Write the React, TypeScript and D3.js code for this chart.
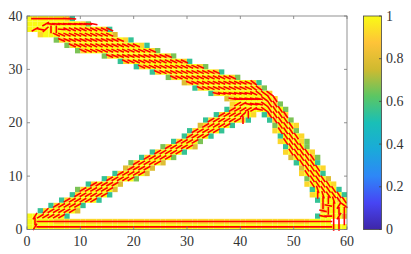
import * as d3 from 'd3'

// Density field, top row first. Each run is [first column, one digit per cell]
const densityRows: [number, string][][] = [
  [[0, '999999985']],
  [[0, '999999999986']],
  [[0, '9999999999999985']],
  [[2, '899999999999997']],
  [[5, '689999999999985']],
  [[7, '6899999999999985']],
  [[9, '6899999999999986']],
  [[14, '68999999999986']],
  [[17, '58999999999985']],
  [[20, '58999999999986']],
  [[23, '58999999999985']],
  [[26, '68999999999986']],
  [[29, '789999999999985']],
  [[31, '58999999999986']],
  [[34, '589999999998']],
  [[37, '7899999998']],
  [[38, '8999999986']],
  [[37, '589999999996']],
  [[35, '58999998'], [44, '58998']],
  [[33, '589999985'], [45, '58996']],
  [[32, '7899995'], [46, '69998']],
  [[30, '5899995'], [46, '89996']],
  [[29, '589995'], [47, '59998']],
  [[27, '589996'], [47, '899986']],
  [[25, '6899997'], [48, '59996']],
  [[23, '5899995'], [48, '899998']],
  [[21, '5899996'], [49, '799986']],
  [[19, '6899997'], [50, '59995']],
  [[18, '789997'], [51, '79998']],
  [[16, '5899997'], [51, '89995']],
  [[14, '5899996'], [52, '69997']],
  [[11, '5899997'], [52, '899998']],
  [[9, '68999997'], [53, '599995']],
  [[8, '58999995'], [53, '8999995']],
  [[6, '58999995'], [54, '599989']],
  [[4, '5899995'], [55, '89999']],
  [[2, '58999997'], [55, '89999']],
  [[0, '99999995'], [54, '599997']],
  [[0, '999998888888888888888888888888888888888888888888888889999']],
  [[0, '999999999999999999999999999999999999999999999999999999999999']],
]

const densityLevels: Record<string, number> = { '9': 1, '8': 0.92, '7': 0.79, '6': 0.66, '5': 0.55 }

// Principal direction per cell, same layout as the density rows
const directionRows: [number, string][][] = [
  [[1, 'hhhhhhaa']],
  [[3, 'uaaaaaaaae']],
  [[1, 'ueUvvaddddddddd']],
  [[5, 'ddddddddddd']],
  [[6, 'dddddddddddd']],
  [[8, 'ddddddddddddd']],
  [[10, 'dddddddddddddd']],
  [[15, 'dddddddddddd']],
  [[18, 'dddddddddddd']],
  [[21, 'dddddddddddd']],
  [[24, 'dddddddddddd']],
  [[27, 'dddddddddddd']],
  [[30, 'ddddddddddddb']],
  [[32, 'ddddddddddbb']],
  [[35, 'eeeeeeedbbb']],
  [[38, 'eeeeeebrr']],
  [[39, 'uueeebrr']],
  [[38, 'uuuuuebrrr']],
  [[36, 'uuuuUv'], [45, 'rrrr']],
  [[34, 'uuuuuuv'], [46, 'rrr']],
  [[33, 'uuuuu'], [47, 'rrr']],
  [[31, 'uuuuu'], [47, 'rrr']],
  [[30, 'uuuu'], [48, 'rrr']],
  [[28, 'uuuu'], [48, 'rrr']],
  [[26, 'uuuuu'], [49, 'rrr']],
  [[24, 'uuuuu'], [49, 'rrrr']],
  [[22, 'uuuuu'], [50, 'rrrr']],
  [[20, 'uuuuu'], [51, 'rrr']],
  [[19, 'uuuu'], [52, 'rrr']],
  [[17, 'uuuuu'], [52, 'rrr']],
  [[15, 'uuuuu'], [53, 'rrr']],
  [[12, 'uuuuu'], [53, 'rrrr']],
  [[10, 'uuuuuu'], [54, 'srrr']],
  [[9, 'uuuuuu'], [54, 'vsrrr']],
  [[7, 'uuuuuu'], [55, 'vvsrr']],
  [[5, 'uuuuu'], [55, 'vevnb']],
  [[3, 'Uuuuuu'], [55, 'evvvv']],
  [[1, 'nuuuuu'], [55, 'ehvnv']],
  [[1, 'vhhhhhhhhhhhhhhhhhhhhhhhhhhhhhhhhhhhhhhhhhhhhhhhhhhhhhhhvvv']],
  [[1, 'nhhhhhhhhhhhhhhhhhhhhhhhhhhhhhhhhhhhhhhhhhhhhhhhhhhhhhhhvv']],
]

const directionDegrees: Record<string, number> = {
  h: 0, a: -5, e: -12, d: -24, b: -36, r: -56, s: -72, v: 90, u: 30, U: 42, n: 58,
}

const xTicks = [0, 10, 20, 30, 40, 50, 60]
const yTicks = [0, 10, 20, 30, 40]
const colorTicks = [0, 0.2, 0.4, 0.6, 0.8, 1]

const parulaStops = ['#3e26a8', '#4745f4', '#2e87f7', '#1aaad9', '#19bfb7', '#5cc663', '#cfba30', '#fec338', '#f9fb15']

const width = 411
const height = 254
const plot = { left: 27, right: 347, top: 16, bottom: 229.5 }
const bar = { left: 363.5, right: 381.5 }
const cols = 60
const rows = 40
const strokeLength = 1.45

const x = d3.scaleLinear().domain([0, cols]).range([plot.left, plot.right])
const y = d3.scaleLinear().domain([0, rows]).range([plot.bottom, plot.top])
const color = d3.scaleLinear<string>()
  .domain(parulaStops.map((_, i) => i / (parulaStops.length - 1)))
  .range(parulaStops)
  .interpolate(d3.interpolateRgb)
const barY = d3.scaleLinear().domain([0, 1]).range([plot.bottom, plot.top])

const cells = densityRows.flatMap((runs, r) =>
  runs.flatMap(([start, digits]) =>
    digits.split('').map((d, i) => ({ col: start + i, row: rows - 1 - r, value: densityLevels[d] }))))

const strokes = directionRows.flatMap((runs, r) =>
  runs.flatMap(([start, codes]) =>
    codes.split('').map((c, i) => ({ col: start + i, row: rows - 1 - r, angle: directionDegrees[c] }))))

const strokePath = (s: { col: number; row: number; angle: number }) => {
  const a = (s.angle * Math.PI) / 180
  const dx = (Math.cos(a) * strokeLength) / 2
  const dy = (Math.sin(a) * strokeLength) / 2
  const cx = s.col + 0.5
  const cy = s.row + 0.5
  return `M${x(cx - dx)},${y(cy - dy)}L${x(cx + dx)},${y(cy + dy)}`
}

const axisColor = '#777'
const labelColor = '#333'
const labelFont = '"Liberation Serif", serif'

export default function App() {
  return (
    <svg width={width} height={height} style={{ position: 'absolute', left: 0, top: 0, background: '#fff' }} fontFamily={labelFont} fontSize={14}>
      <defs>
        <linearGradient id="parula" x1="0" y1="1" x2="0" y2="0">
          {parulaStops.map((c, i) => (
            <stop key={c} offset={i / (parulaStops.length - 1)} stopColor={c} />
          ))}
        </linearGradient>
      </defs>
      {cells.map(c => (
        <rect key={`${c.col}-${c.row}`} x={x(c.col)} y={y(c.row + 1)} width={x(1) - x(0)} height={y(0) - y(1)} fill={color(c.value)} />
      ))}
      <path d={strokes.map(strokePath).join('')} stroke="#ff0000" strokeWidth={1.6} fill="none" />

      <rect x={plot.left} y={plot.top} width={plot.right - plot.left} height={plot.bottom - plot.top} fill="none" stroke={axisColor} strokeWidth={0.8} />
      {xTicks.map(t => (
        <g key={t}>
          <line x1={x(t)} x2={x(t)} y1={plot.bottom} y2={plot.bottom - 3} stroke={axisColor} strokeWidth={0.8} />
          <line x1={x(t)} x2={x(t)} y1={plot.top} y2={plot.top + 3} stroke={axisColor} strokeWidth={0.8} />
          <text x={x(t)} y={246} textAnchor="middle" fill={labelColor}>{t}</text>
        </g>
      ))}
      {yTicks.map(t => (
        <g key={t}>
          <line x1={plot.left} x2={plot.left + 3} y1={y(t)} y2={y(t)} stroke={axisColor} strokeWidth={0.8} />
          <line x1={plot.right} x2={plot.right - 3} y1={y(t)} y2={y(t)} stroke={axisColor} strokeWidth={0.8} />
          <text x={22.5} y={y(t) + 4.5} textAnchor="end" fill={labelColor}>{t}</text>
        </g>
      ))}

      <rect x={bar.left} y={plot.top} width={bar.right - bar.left} height={plot.bottom - plot.top} fill="url(#parula)" stroke="#444" strokeWidth={0.8} />
      {colorTicks.map(t => (
        <g key={t}>
          <line x1={bar.right} x2={bar.right - 2.5} y1={barY(t)} y2={barY(t)} stroke="#444" strokeWidth={0.8} />
          <text x={386} y={barY(t) + 4.5} fill={labelColor}>{t}</text>
        </g>
      ))}
    </svg>
  )
}
